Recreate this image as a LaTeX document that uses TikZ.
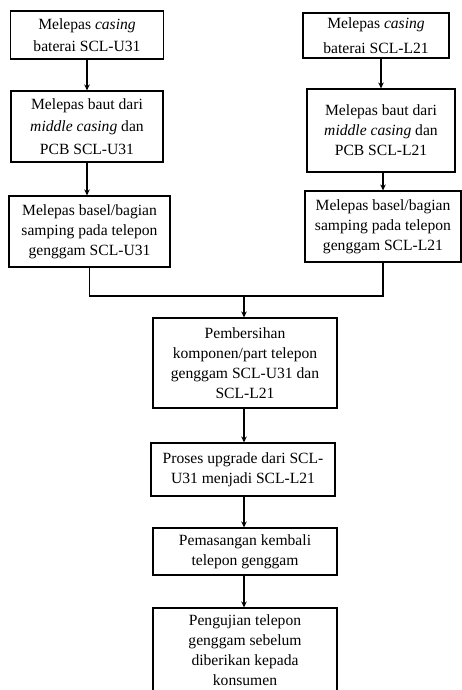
\documentclass[tikz,border=0pt]{standalone}
\usepackage{fontspec}
\setmainfont{Liberation Serif}
\usetikzlibrary{arrows.meta}
\tikzset{
  box/.style={draw=black, line width=1.1pt, rectangle, inner sep=0pt, align=center, text=black},
  sp20/.style={font={\fontsize{15.6}{20}\selectfont}},
  sp22/.style={font={\fontsize{15.6}{22.5}\selectfont}},
  sp25/.style={font={\fontsize{15.6}{25}\selectfont}},
  arr/.style={line width=1.1pt, -{Stealth[length=6pt,width=5.5pt]}},
  ln/.style={line width=1.1pt}
}
\begin{document}
\begin{tikzpicture}[x=1pt,y=-1pt]
\useasboundingbox (0,0) rectangle (462,690);
% left column
\node[box, sp22, minimum width=153pt, minimum height=48pt] (L1) at (87,35) {Melepas \textit{casing}\\baterai SCL-U31};
\node[box, sp22, minimum width=152pt, minimum height=71pt] (L2) at (87,126.5) {Melepas baut dari\\\textit{middle casing} dan\\PCB SCL-U31};
\node[box, sp20, minimum width=161pt, minimum height=71pt] (L3) at (89.5,231.5) {Melepas basel/bagian\\samping pada telepon\\genggam SCL-U31};
% right column
\node[box, sp25, minimum width=146pt, minimum height=45pt] (R1) at (376,35.5) {Melepas \textit{casing}\\baterai SCL-L21};
\node[box, sp20, minimum width=148pt, minimum height=83pt] (R2) at (381,130.5) {Melepas baut dari\\\textit{middle casing} dan\\PCB SCL-L21};
\node[box, sp20, minimum width=156pt, minimum height=71pt] (R3) at (383,226.5) {Melepas basel/bagian\\samping pada telepon\\genggam SCL-L21};
% centre column
\node[box, sp20, minimum width=184pt, minimum height=90pt] (C1) at (245,363) {Pembersihan\\komponen/part telepon\\genggam SCL-U31 dan\\SCL-L21};
\node[box, sp20, minimum width=184pt, minimum height=53pt] (C2) at (243,469.5) {Proses upgrade dari SCL-\\U31 menjadi SCL-L21};
\node[box, sp20, minimum width=184pt, minimum height=47pt] (C3) at (245,551.5) {Pemasangan kembali\\telepon genggam};
\node[box, sp20, minimum width=184pt, minimum height=85pt] (C4) at (245,650.5) {Pengujian telepon\\genggam sebelum\\diberikan kepada\\konsumen};
% connectors
\draw[arr] (L1.south) -- (L1.south |- L2.north);
\draw[arr] (L2.south) -- (L2.south |- L3.north);
\draw[arr] (R2.north |- R1.south) -- (R2.north);
\draw[arr] (R3.north |- R2.south) -- (R3.north);
\coordinate (J) at (244,296);
\draw[ln] (L3.south) |- (J) -| (R3.south);
\draw[arr] (J) -- (J |- C1.north);
\draw[arr] (J |- C1.south) -- (J |- C2.north);
\draw[arr] (J |- C2.south) -- (J |- C3.north);
\draw[arr] (J |- C3.south) -- (J |- C4.north);
\end{tikzpicture}
\end{document}
